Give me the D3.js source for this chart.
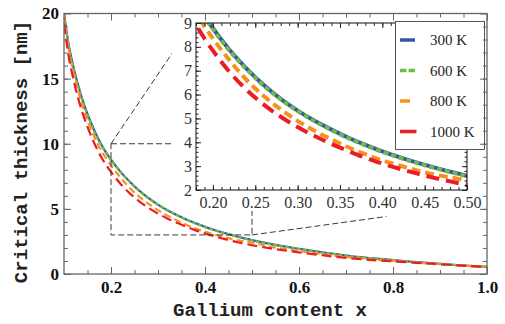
<!DOCTYPE html>
<html>
<head>
<meta charset="utf-8">
<script src="https://cdn.jsdelivr.net/npm/d3@7"></script>
<style>
body { margin: 0; background: #fff; }
</style>
</head>
<body>
<div class="chart"></div>
<script>
// gallium content (x) sample points
var xs = [0.10, 0.11, 0.12, 0.13, 0.14, 0.15, 0.16, 0.17, 0.18, 0.19, 0.20,
          0.22, 0.24, 0.26, 0.28, 0.30, 0.32, 0.34, 0.36, 0.38, 0.40,
          0.42, 0.44, 0.46, 0.48, 0.50, 0.55, 0.60, 0.65, 0.70, 0.75,
          0.80, 0.85, 0.90, 0.95, 1.00];

// critical thickness [nm]
var t300  = [20.0, 17.6, 15.9, 14.5, 13.3, 12.3, 11.4, 10.6, 9.90, 9.30, 8.78,
             7.86, 7.08, 6.40, 5.82, 5.33, 4.90, 4.53, 4.19, 3.89, 3.62,
             3.38, 3.16, 2.96, 2.77, 2.60, 2.23, 1.93, 1.66, 1.42, 1.23,
             1.07, 0.91, 0.77, 0.65, 0.54];
var t600  = [19.9, 17.5, 15.8, 14.4, 13.2, 12.2, 11.3, 10.5, 9.84, 9.25, 8.74,
             7.82, 7.05, 6.37, 5.80, 5.31, 4.88, 4.51, 4.17, 3.87, 3.60,
             3.36, 3.14, 2.94, 2.75, 2.58, 2.22, 1.92, 1.65, 1.41, 1.22,
             1.06, 0.90, 0.77, 0.65, 0.54];
var t800  = [19.8, 17.3, 15.5, 14.1, 12.8, 11.8, 10.9, 10.1, 9.42, 8.86, 8.35,
             7.42, 6.60, 5.94, 5.38, 4.90, 4.48, 4.12, 3.79, 3.50, 3.24,
             3.03, 2.83, 2.66, 2.53, 2.40, 2.03, 1.76, 1.52, 1.31, 1.14,
             1.01, 0.87, 0.75, 0.64, 0.54];
var t1000 = [19.2, 16.7, 14.95, 13.5, 12.3, 11.3, 10.4, 9.61, 8.93, 8.35, 7.84,
             6.93, 6.19, 5.58, 5.07, 4.64, 4.26, 3.93, 3.63, 3.35, 3.11,
             2.89, 2.70, 2.52, 2.36, 2.21, 1.91, 1.66, 1.44, 1.24, 1.09,
             0.97, 0.86, 0.75, 0.64, 0.55];

var labels = ["300 K", "600 K", "800 K", "1000 K"];

var mainXTicks = [0.2, 0.4, 0.6, 0.8, 1.0];
var mainYTicks = [0, 5, 10, 15, 20];
var insetXTicks = [0.20, 0.25, 0.30, 0.35, 0.40, 0.45, 0.50];
var insetYTicks = [2, 3, 4, 5, 6, 7, 8, 9];
var zoomX = [0.2, 0.5];
var zoomY = [3, 10];

var colors = ["#3b54a5", "#6cbd45", "#f7901e", "#ec1c24"];
var mainDash = [null, "4,2", "7,4", "10,5"];
var insetDash = [null, "5,3", "9,5", "13,7"];

var series = [t300, t600, t800, t1000];

var svg = d3.select(".chart").append("svg")
            .attr("width", 505)
            .attr("height", 324);

var x = d3.scaleLinear().domain([0.1, 1.0]).range([64, 487]);
var y = d3.scaleLinear().domain([0, 20]).range([274, 13.5]);
var ix = d3.scaleLinear().domain([0.18, 0.5]).range([196, 467]);
var iy = d3.scaleLinear().domain([2, 9]).range([190, 23]);

function pts(vals) {
    return xs.map(function(d, i) { return [d, vals[i]]; });
}

var defs = svg.append("defs");
defs.append("clipPath").attr("id", "clipMain").append("rect")
    .attr("x", x(0.1)).attr("y", y(20))
    .attr("width", x(1.0) - x(0.1)).attr("height", y(0) - y(20));
defs.append("clipPath").attr("id", "clipInset").append("rect")
    .attr("x", ix(0.18)).attr("y", iy(9))
    .attr("width", ix(0.5) - ix(0.18)).attr("height", iy(2) - iy(9));

// main curves
var mainLine = d3.line()
    .x(function(d) { return x(d[0]); })
    .y(function(d) { return y(d[1]); })
    .curve(d3.curveMonotoneX);

svg.append("g").attr("clip-path", "url(#clipMain)")
   .selectAll("path").data(series).enter()
   .append("path")
   .attr("d", function(d) { return mainLine(pts(d)); })
   .attr("fill", "none")
   .attr("stroke", function(d, i) { return colors[i]; })
   .attr("stroke-width", 2.2)
   .attr("stroke-dasharray", function(d, i) { return mainDash[i]; });

// zoom box and connector lines
var dashed = svg.append("g")
    .attr("fill", "none")
    .attr("stroke", "#3a3a3a")
    .attr("stroke-width", 1)
    .attr("stroke-dasharray", "6,3");
dashed.append("rect")
    .attr("x", x(zoomX[0])).attr("y", y(zoomY[1]))
    .attr("width", x(zoomX[1]) - x(zoomX[0]))
    .attr("height", y(zoomY[0]) - y(zoomY[1]));
dashed.append("line")
    .attr("x1", x(zoomX[0])).attr("y1", y(zoomY[1]))
    .attr("x2", ix(0.18)).attr("y2", iy(9) - 5);
dashed.append("line")
    .attr("x1", x(zoomX[1])).attr("y1", y(zoomY[0]))
    .attr("x2", ix(0.405)).attr("y2", iy(2) + 26.5);

// inset background
svg.append("rect")
   .attr("x", 172).attr("y", 15)
   .attr("width", 310).attr("height", 196)
   .attr("fill", "#fff");

// inset curves
var insetLine = d3.line()
    .x(function(d) { return ix(d[0]); })
    .y(function(d) { return iy(d[1]); })
    .curve(d3.curveMonotoneX);

svg.append("g").attr("clip-path", "url(#clipInset)")
   .selectAll("path").data(series).enter()
   .append("path")
   .attr("d", function(d) { return insetLine(pts(d)); })
   .attr("fill", "none")
   .attr("stroke", function(d, i) { return colors[i]; })
   .attr("stroke-width", 4)
   .attr("stroke-dasharray", function(d, i) { return insetDash[i]; });

// inset frame and ticks
function range(a, b, s) {
    var out = [];
    for (var v = a; v <= b + 1e-9; v += s) out.push(+v.toFixed(3));
    return out;
}
var insetMinorX = range(0.18, 0.50, 0.01);
var insetMinorY = range(2, 9, 0.2);

function styleAxis(g, col) {
    g.select(".domain").remove();
    g.selectAll(".tick line").attr("stroke", col);
}

var ig = svg.append("g");
ig.append("g").attr("transform", "translate(0," + iy(2) + ")")
  .call(d3.axisBottom(ix).tickValues(insetMinorX).tickFormat("").tickSize(-3))
  .call(styleAxis, "#222");
ig.append("g").attr("transform", "translate(0," + iy(9) + ")")
  .call(d3.axisTop(ix).tickValues(insetMinorX).tickFormat("").tickSize(-3))
  .call(styleAxis, "#222");
ig.append("g").attr("transform", "translate(" + ix(0.18) + ",0)")
  .call(d3.axisLeft(iy).tickValues(insetMinorY).tickFormat("").tickSize(-2.5))
  .call(styleAxis, "#222");
ig.append("g").attr("transform", "translate(" + ix(0.5) + ",0)")
  .call(d3.axisRight(iy).tickValues(insetMinorY).tickFormat("").tickSize(-2.5))
  .call(styleAxis, "#222");

ig.append("g").attr("transform", "translate(0," + iy(2) + ")")
  .call(d3.axisBottom(ix).tickValues(insetXTicks).tickFormat(d3.format(".2f"))
        .tickSize(-5).tickPadding(7))
  .call(styleAxis, "#222");
ig.append("g").attr("transform", "translate(0," + iy(9) + ")")
  .call(d3.axisTop(ix).tickValues(insetXTicks).tickFormat("").tickSize(-5))
  .call(styleAxis, "#222");
ig.append("g").attr("transform", "translate(" + ix(0.18) + ",0)")
  .call(d3.axisLeft(iy).tickValues(insetYTicks).tickFormat(d3.format("d"))
        .tickSize(-5).tickPadding(4))
  .call(styleAxis, "#222");
ig.append("g").attr("transform", "translate(" + ix(0.5) + ",0)")
  .call(d3.axisRight(iy).tickValues(insetYTicks).tickFormat("").tickSize(-5))
  .call(styleAxis, "#222");

ig.selectAll(".tick text")
  .attr("font-family", "'Liberation Serif', 'Times New Roman', serif")
  .attr("font-size", 16)
  .attr("fill", "#333");

ig.append("rect")
  .attr("x", ix(0.18)).attr("y", iy(9))
  .attr("width", ix(0.5) - ix(0.18)).attr("height", iy(2) - iy(9))
  .attr("fill", "none").attr("stroke", "#222").attr("stroke-width", 1.1);

// legend
var lg = svg.append("g");
lg.append("rect")
  .attr("x", 395.5).attr("y", 21.5)
  .attr("width", 89).attr("height", 128)
  .attr("fill", "#fff").attr("stroke", "#555").attr("stroke-width", 1);

var legendLen = [15, 15, 10, 16.5];
var legendDash = [null, "6.5,2", null, null];
var ly = d3.scalePoint().domain(labels).range([40, 131.5]);

var entry = lg.selectAll("g.entry").data(labels).enter()
  .append("g").attr("class", "entry")
  .attr("transform", function(d) { return "translate(400," + ly(d) + ")"; });
entry.append("line")
  .attr("x1", 0).attr("y1", 0)
  .attr("x2", function(d, i) { return legendLen[i]; }).attr("y2", 0)
  .attr("stroke", function(d, i) { return colors[i]; })
  .attr("stroke-width", 3.5)
  .attr("stroke-dasharray", function(d, i) { return legendDash[i]; });
entry.append("text")
  .attr("x", 30).attr("y", 5)
  .attr("font-family", "'Liberation Serif', 'Times New Roman', serif")
  .attr("font-size", 15)
  .attr("fill", "#222")
  .text(function(d) { return d; });

// main frame and ticks
var mainMinorX = range(0.15, 0.95, 0.05);
var mainMinorY = range(1, 19, 1);
var frameCol = "#666";

var mg = svg.append("g");
mg.append("g").attr("transform", "translate(0," + y(0) + ")")
  .call(d3.axisBottom(x).tickValues(mainMinorX).tickFormat("").tickSize(-4))
  .call(styleAxis, frameCol);
mg.append("g").attr("transform", "translate(0," + y(20) + ")")
  .call(d3.axisTop(x).tickValues(mainMinorX).tickFormat("").tickSize(-4))
  .call(styleAxis, frameCol);
mg.append("g").attr("transform", "translate(" + x(0.1) + ",0)")
  .call(d3.axisLeft(y).tickValues(mainMinorY).tickFormat("").tickSize(-4))
  .call(styleAxis, frameCol);
mg.append("g").attr("transform", "translate(" + x(1.0) + ",0)")
  .call(d3.axisRight(y).tickValues(mainMinorY).tickFormat("").tickSize(-4))
  .call(styleAxis, frameCol);

mg.append("g").attr("transform", "translate(0," + y(0) + ")")
  .call(d3.axisBottom(x).tickValues(mainXTicks).tickFormat(d3.format(".1f"))
        .tickSize(-7).tickPadding(7))
  .call(styleAxis, frameCol);
mg.append("g").attr("transform", "translate(0," + y(20) + ")")
  .call(d3.axisTop(x).tickValues(mainXTicks).tickFormat("").tickSize(-7))
  .call(styleAxis, frameCol);
mg.append("g").attr("transform", "translate(" + x(0.1) + ",0)")
  .call(d3.axisLeft(y).tickValues(mainYTicks).tickFormat(d3.format("d"))
        .tickSize(-7).tickPadding(5))
  .call(styleAxis, frameCol);
mg.append("g").attr("transform", "translate(" + x(1.0) + ",0)")
  .call(d3.axisRight(y).tickValues(mainYTicks).tickFormat("").tickSize(-7))
  .call(styleAxis, frameCol);

mg.selectAll(".tick text")
  .attr("font-family", "'Liberation Serif', 'Times New Roman', serif")
  .attr("font-weight", "bold")
  .attr("font-size", 17)
  .attr("fill", "#111");

mg.append("rect")
  .attr("x", x(0.1)).attr("y", y(20))
  .attr("width", x(1.0) - x(0.1)).attr("height", y(0) - y(20))
  .attr("fill", "none").attr("stroke", frameCol).attr("stroke-width", 1.3);

// axis titles
svg.append("text")
   .attr("x", 270).attr("y", 316)
   .attr("text-anchor", "middle")
   .attr("font-family", "'Liberation Mono', 'Courier New', monospace")
   .attr("font-weight", "bold")
   .attr("font-size", 19)
   .attr("fill", "#222")
   .text("Gallium content x");

svg.append("text")
   .attr("transform", "translate(27,152) rotate(-90)")
   .attr("text-anchor", "middle")
   .attr("font-family", "'Liberation Mono', 'Courier New', monospace")
   .attr("font-weight", "bold")
   .attr("font-size", 19)
   .attr("fill", "#222")
   .text("Critical thickness [nm]");
</script>
</body>
</html>
